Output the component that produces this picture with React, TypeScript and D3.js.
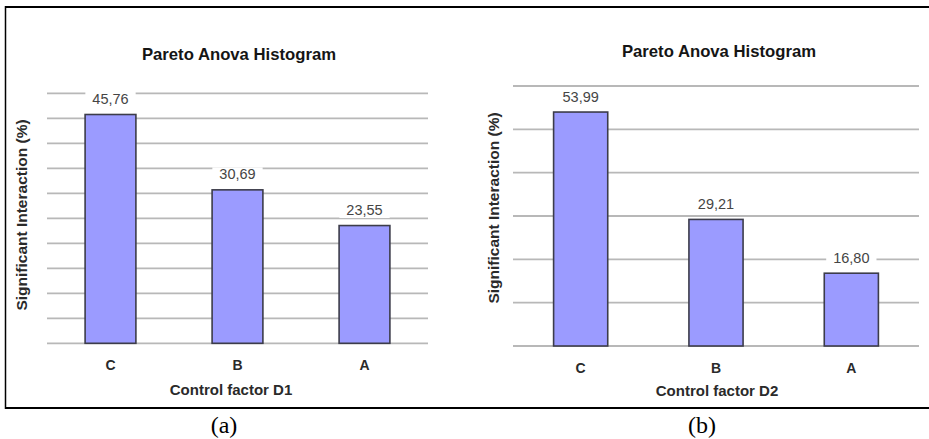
import React from "react";
import * as d3 from "d3";

// Factor order (Pareto order, largest first)
const categories = ["C", "B", "A"];
// Contribution of each factor, in %, for control factors D1 and D2
const valuesD1 = [45.76, 30.69, 23.55];
const valuesD2 = [53.99, 29.21, 16.8];
// Y-axis extents and tick counts
const yDomainD1 = [0, 50];
const yDomainD2 = [0, 60];
const chartTitle = "Pareto Anova Histogram";
const yAxisTitle = "Significant Interaction (%)";
const xTitles = ["Control factor D1", "Control factor D2"];
const captions = ["(a)", "(b)"];

const W = 929;
const H = 439;

const commaLocale = d3.formatLocale({
  decimal: ",",
  thousands: ".",
  grouping: [3],
  currency: ["", ""],
});
const fmt = commaLocale.format(".2f");

const SANS = "'Liberation Sans', Arial, sans-serif";
const SERIF = "'Liberation Serif', 'Times New Roman', serif";

type PanelLayout = {
  x0: number;
  x1: number;
  yTop: number;
  yBase: number;
  titleX: number;
  titleY: number;
  yLabelX: number;
  yLabelY: number;
  tickY: number;
  xLabelX: number;
  xLabelY: number;
  captionX: number;
  tickCount: number;
};

function Panel({
  values,
  domain,
  xTitle,
  caption,
  L,
}: {
  values: number[];
  domain: number[];
  xTitle: string;
  caption: string;
  L: PanelLayout;
}) {
  const x = d3
    .scaleBand<string>()
    .domain(categories)
    .range([L.x0, L.x1])
    .paddingInner(0.6)
    .paddingOuter(0.3);
  const y = d3.scaleLinear().domain(domain).range([L.yBase, L.yTop]);
  const ticks = y.ticks(L.tickCount);

  const labelFont = 14.5;
  const charW = (s: string) =>
    s.split("").reduce((a, c) => a + (c === "," ? 0.278 : 0.556), 0) * labelFont;

  return (
    <g>
      {/* horizontal grid */}
      {ticks.map((t) => (
        <line
          key={t}
          x1={L.x0}
          x2={L.x1}
          y1={y(t)}
          y2={y(t)}
          stroke="#b8b8b8"
          strokeWidth={1.8}
        />
      ))}
      {/* bars */}
      {values.map((v, i) => (
        <rect
          key={categories[i]}
          x={x(categories[i])}
          y={y(v)}
          width={x.bandwidth()}
          height={L.yBase - y(v)}
          fill="#9b9bff"
          stroke="#3c3c4a"
          strokeWidth={1.6}
        />
      ))}
      {/* value labels with white backing that breaks the grid */}
      {values.map((v, i) => {
        const cx = (x(categories[i]) as number) + x.bandwidth() / 2;
        const by = y(v) - 10.5;
        const s = fmt(v);
        const w = charW(s);
        return (
          <g key={"l" + i}>
            <rect
              x={cx - w / 2 - 7}
              y={by - 12}
              width={w + 14}
              height={15}
              fill="#ffffff"
            />
            <text
              x={cx}
              y={by}
              textAnchor="middle"
              fontFamily={SANS}
              fontSize={labelFont}
              fill="#454545"
            >
              {s}
            </text>
          </g>
        );
      })}
      {/* category ticks */}
      {categories.map((c) => (
        <text
          key={"t" + c}
          x={(x(c) as number) + x.bandwidth() / 2}
          y={L.tickY}
          textAnchor="middle"
          fontFamily={SANS}
          fontWeight="bold"
          fontSize={14}
          fill="#2a2a2a"
        >
          {c}
        </text>
      ))}
      <text
        x={L.titleX}
        y={L.titleY}
        textAnchor="middle"
        fontFamily={SANS}
        fontWeight="bold"
        fontSize={16.7}
        fill="#151515"
      >
        {chartTitle}
      </text>
      <text
        transform={`translate(${L.yLabelX},${L.yLabelY}) rotate(-90)`}
        textAnchor="middle"
        fontFamily={SANS}
        fontWeight="bold"
        fontSize={15.5}
        fill="#2a2a2a"
      >
        {yAxisTitle}
      </text>
      <text
        x={L.xLabelX}
        y={L.xLabelY}
        textAnchor="middle"
        fontFamily={SANS}
        fontWeight="bold"
        fontSize={15}
        fill="#2a2a2a"
      >
        {xTitle}
      </text>
      <text
        x={L.captionX}
        y={433}
        textAnchor="middle"
        fontFamily={SANS === "" ? SANS : SERIF}
        fontSize={24}
        fill="#000"
      >
        {caption}
      </text>
    </g>
  );
}

const layouts: PanelLayout[] = [
  {
    x0: 47,
    x1: 428,
    yTop: 93.3,
    yBase: 343.3,
    titleX: 239,
    titleY: 60,
    yLabelX: 27,
    yLabelY: 215,
    tickY: 370,
    xLabelX: 231,
    xLabelY: 395,
    captionX: 224,
    tickCount: 10,
  },
  {
    x0: 513,
    x1: 919,
    yTop: 86,
    yBase: 346,
    titleX: 719,
    titleY: 56.5,
    yLabelX: 498.5,
    yLabelY: 208,
    tickY: 373,
    xLabelX: 717,
    xLabelY: 396,
    captionX: 702,
    tickCount: 6,
  },
];

export default function App() {
  return (
    <svg
      width={W}
      height={H}
      viewBox={`0 0 ${W} ${H}`}
      style={{ position: "absolute", left: 0, top: 0, background: "#fff" }}
    >
      <rect x={0} y={0} width={W} height={H} fill="#fff" />
      {/* frame */}
      <line x1={5} x2={W} y1={7} y2={7} stroke="#000" strokeWidth={2} />
      <line x1={5} x2={W} y1={408} y2={408} stroke="#000" strokeWidth={2} />
      <line x1={5.5} x2={5.5} y1={6} y2={409} stroke="#000" strokeWidth={1.5} />
      <Panel
        values={valuesD1}
        domain={yDomainD1}
        xTitle={xTitles[0]}
        caption={captions[0]}
        L={layouts[0]}
      />
      <Panel
        values={valuesD2}
        domain={yDomainD2}
        xTitle={xTitles[1]}
        caption={captions[1]}
        L={layouts[1]}
      />
    </svg>
  );
}
